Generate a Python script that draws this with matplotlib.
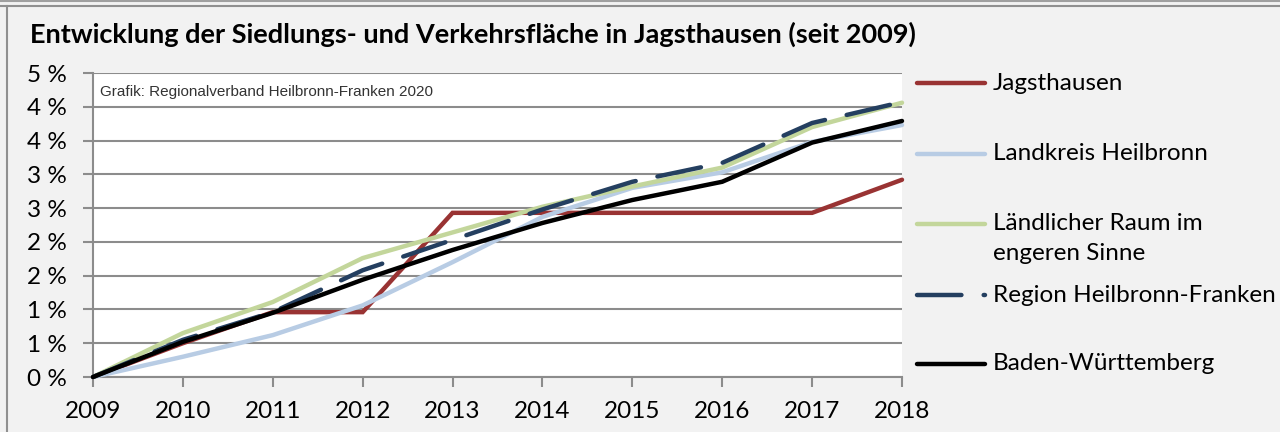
import matplotlib
matplotlib.use("Agg")
import matplotlib.pyplot as plt
from matplotlib.lines import Line2D

years = [2009, 2010, 2011, 2012, 2013, 2014, 2015, 2016, 2017, 2018]
jagsthausen = [0.00, 0.50, 0.96, 0.96, 2.43, 2.43, 2.43, 2.43, 2.43, 2.92]
landkreis = [0.00, 0.30, 0.62, 1.06, 1.70, 2.37, 2.80, 3.03, 3.48, 3.73]
laendlich = [0.00, 0.65, 1.11, 1.76, 2.14, 2.52, 2.82, 3.10, 3.70, 4.06]
region = [0.00, 0.55, 0.96, 1.58, 2.03, 2.48, 2.89, 3.17, 3.76, 4.07]
bw = [0.00, 0.52, 0.95, 1.44, 1.88, 2.28, 2.62, 2.89, 3.47, 3.79]

y_ticks = [0, 0.5, 1.0, 1.5, 2.0, 2.5, 3.0, 3.5, 4.0, 4.5]
y_labels = ["0 %", "1 %", "1 %", "2 %", "2 %", "3 %", "3 %", "4 %", "4 %", "5 %"]

title = "Entwicklung der Siedlungs- und Verkehrsfläche in Jagsthausen (seit 2009)"
source = "Grafik: Regionalverband Heilbronn-Franken 2020"

series = [
    ("Jagsthausen", jagsthausen, "#993333", "solid"),
    ("Landkreis Heilbronn", landkreis, "#B8CCE4", "solid"),
    ("Ländlicher Raum im\nengeren Sinne", laendlich, "#C3D69B", "solid"),
    ("Region Heilbronn-Franken", region, "#243F60", "dashed"),
    ("Baden-Württemberg", bw, "#000000", "solid"),
]

FONT = "Lato"
FS = 17.5
W, H = 1280, 432
fig = plt.figure(figsize=(W / 100, H / 100), dpi=100, facecolor="#F2F2F2")

def fx(px):
    return px / W

def fy(py):
    return 1 - py / H

ax = fig.add_axes([fx(93), fy(377), fx(902) - fx(93), fy(73) - fy(377)])
ax.set_facecolor("white")
ax.set_xlim(years[0], years[-1])
ax.set_ylim(y_ticks[0], y_ticks[-1])

grid_c = "#8C8C8C"
ax.set_yticks(y_ticks)
ax.set_yticklabels(y_labels)
ax.set_xticks(years)
ax.set_xticklabels([str(y) for y in years])
ax.grid(axis="y", color=grid_c, linewidth=1.5)
ax.set_axisbelow(True)
for s in ["top", "right"]:
    ax.spines[s].set_visible(False)
for s in ["left", "bottom"]:
    ax.spines[s].set_color(grid_c)
    ax.spines[s].set_linewidth(1.5)
ax.tick_params(axis="both", colors=grid_c, length=7, width=1.5, direction="out",
               labelcolor="black", labelsize=FS)
ax.tick_params(axis="y", pad=12)
ax.tick_params(axis="x", pad=10)
for lab in ax.get_xticklabels() + ax.get_yticklabels():
    lab.set_fontfamily(FONT)

handles = []
for name, vals, col, ls in series:
    if ls == "dashed":
        ln, = ax.plot(years, vals, color=col, linewidth=3.2, dashes=(10, 5),
                      dash_capstyle="round", clip_on=False, zorder=3)
    else:
        ln, = ax.plot(years, vals, color=col, linewidth=3.2,
                      solid_capstyle="round", solid_joinstyle="miter", clip_on=False, zorder=3)
    handles.append(ln)
handles[3].set_zorder(4)
handles[4].set_zorder(5)

ax.text(0.009, 0.936, source, transform=ax.transAxes, fontsize=11,
        fontfamily="Liberation Sans", color="#333333", va="center", ha="left")

fig.text(fx(30), fy(34), title, fontsize=19.5, fontweight="bold", fontfamily=FONT,
         va="center", ha="left")

# legend (manual)
leg_y = [83, 154, 224, 295, 364]
for (name, vals, col, ls), py in zip(series, leg_y):
    kw = dict(color=col, linewidth=3.2, solid_capstyle="round", transform=fig.transFigure)
    if ls == "dashed":
        kw.update(dashes=(10, 5), dash_capstyle="round")
    fig.add_artist(Line2D([fx(917), fx(985)], [fy(py), fy(py)], **kw))
    for k, t in enumerate(name.split("\n")):
        fig.text(fx(993), fy(py + 30 * k), t, fontsize=FS, fontfamily=FONT,
                 va="center", ha="left")

# outer borders
fig.add_artist(Line2D([0, 1], [fy(0.5), fy(0.5)], color="#A0A0A0", linewidth=1.5,
                      transform=fig.transFigure))
fig.add_artist(Line2D([0, 1], [fy(5.5), fy(5.5)], color="#909090", linewidth=1.5,
                      transform=fig.transFigure))
fig.add_artist(Line2D([fx(6.5), fx(6.5)], [fy(5.5), 0], color="#909090", linewidth=1.5,
                      transform=fig.transFigure))

fig.savefig("out.png", dpi=100, facecolor=fig.get_facecolor())
